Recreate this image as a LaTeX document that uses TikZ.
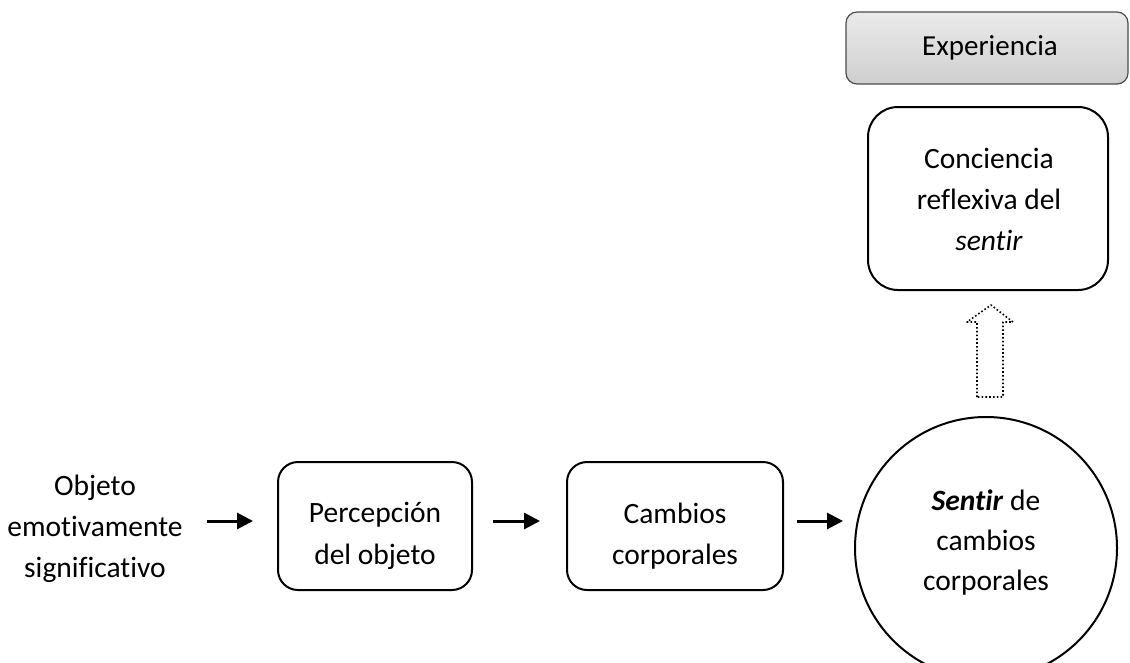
\documentclass[tikz,border=0pt]{standalone}
\usepackage{fontspec}
\setmainfont[Ligatures=NoCommon]{Carlito}
\usetikzlibrary{arrows.meta,shapes.geometric}
\begin{document}
\begin{tikzpicture}[x=1pt,y=-1pt,
  txt/.style={align=center,inner sep=0pt},
  rbox/.style={draw=black,line width=2pt,rounded corners=20pt},
  flow/.style={line width=3pt,-{Triangle[length=16pt,width=16pt]}},
]
\useasboundingbox (0,0) rectangle (1130,662);
\begin{scope}
\clip (0,0) rectangle (1130,662);
% Experiencia box
\shade[top color=gray!16,bottom color=gray!38,rounded corners=11pt]
  (846,12) rectangle (1128,84);
\draw[draw=black!70,line width=1.2pt,rounded corners=11pt]
  (846,12) rectangle (1128,84);
\node[txt,font={\fontsize{29}{34}\selectfont}] (exp) at (990,48) {Experiencia};
% Conciencia box
\draw[rbox,rounded corners=30pt] (868,107) rectangle (1108,290);
\node[txt,font={\fontsize{29.5}{41}\selectfont}] (conc) at (989,199)
  {Conciencia\\reflexiva del\\\textit{sentir}};
% dotted hollow arrow
\draw[line width=1.6pt,dash pattern=on 1.6pt off 2.2pt,line join=round]
  (977,397) -- (977,322) -- (967,322) -- (991,305) -- (1013,322)
  -- (1003,322) -- (1003,397) -- cycle;
% circle
\draw[line width=2pt] (986,548) circle (131);
\end{scope}
\coordinate (circW) at (855,521);
\node[txt,font={\fontsize{29.5}{40}\selectfont}] (sent) at (986,543)
  {\textbf{\textit{Sentir}} de\\cambios\\corporales};
% left text
\node[txt,font={\fontsize{29.5}{41}\selectfont}] (obj) at (95,529)
  {Objeto\\emotivamente\\significativo};
% Percepción
\draw[rbox] (278,462) rectangle (472,590);
\coordinate (percW) at (278,521);
\coordinate (percE) at (472,521);
\node[txt,font={\fontsize{29.5}{41.5}\selectfont}] (perc) at (375,536)
  {Percepción\\del objeto};
% Cambios
\draw[rbox] (567,462) rectangle (783,590);
\coordinate (cambW) at (567,521);
\coordinate (cambE) at (783,521);
\node[txt,font={\fontsize{29.5}{41.5}\selectfont}] (camb) at (675,536)
  {Cambios\\corporales};
% arrows
\coordinate (objE) at (207,521);
\draw[flow] (objE) -- ([xshift=-25pt]percW);
\draw[flow] ([xshift=21pt]percE) -- ([xshift=-27pt]cambW);
\draw[flow] ([xshift=14pt]cambE) -- ([xshift=-12pt]circW);
\end{tikzpicture}
\end{document}
